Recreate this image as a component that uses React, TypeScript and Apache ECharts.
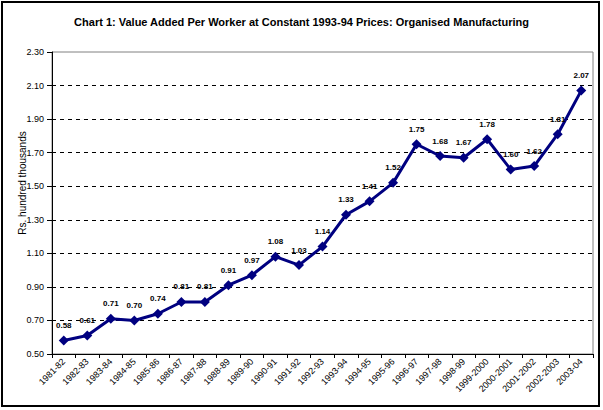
import React, { useEffect, useRef } from "react";
import * as echarts from "echarts";

const categories = [
  "1981-82", "1982-83", "1983-84", "1984-85", "1985-86", "1986-87", "1987-88",
  "1988-89", "1989-90", "1990-91", "1991-92", "1992-93", "1993-94", "1994-95",
  "1995-96", "1996-97", "1997-98", "1998-99", "1999-2000", "2000-2001",
  "2001-2002", "2002-2003", "2003-04",
];
const valuePerWorker = [
  0.58, 0.61, 0.71, 0.7, 0.74, 0.81, 0.81, 0.91, 0.97, 1.08, 1.03, 1.14, 1.33,
  1.41, 1.52, 1.75, 1.68, 1.67, 1.78, 1.6, 1.62, 1.81, 2.07,
];
const yMin = 0.5;
const yMax = 2.3;
const yStep = 0.2;

const titleText =
  "Chart 1: Value Added Per Worker at Constant 1993-94 Prices: Organised Manufacturing";
const yAxisTitle = "Rs. hundred thousands";

const FONT = "Arial, 'Liberation Sans', sans-serif";

export default function App() {
  const ref = useRef<HTMLDivElement>(null);
  useEffect(() => {
    document.body.style.margin = "0";
    const chart = echarts.init(ref.current!, null, { renderer: "svg" });
    chart.setOption({
      animation: false,
      backgroundColor: "#ffffff",
      textStyle: { fontFamily: FONT },
      title: {
        text: titleText,
        left: "center",
        top: 11,
        textStyle: { fontSize: 11, fontWeight: "bold", color: "#000", fontFamily: FONT },
      },
      graphic: [
        {
          type: "rect",
          shape: { x: 2, y: 2, width: 597, height: 404 },
          style: { fill: "none", stroke: "#000", lineWidth: 2 },
          silent: true,
          z: 100,
        },
        {
          type: "text",
          x: 22,
          y: 183,
          rotation: Math.PI / 2,
          style: {
            text: yAxisTitle,
            fontSize: 10,
            fontFamily: FONT,
            fill: "#000",
            align: "center",
            verticalAlign: "middle",
          },
        },
      ],
      grid: {
        left: 52,
        right: 10,
        top: 52,
        bottom: 56,
        show: true,
        borderColor: "#808080",
        borderWidth: 1,
        backgroundColor: "#ffffff",
      },
      xAxis: {
        type: "category",
        data: categories,
        boundaryGap: true,
        axisLine: { lineStyle: { color: "#000", width: 1 } },
        axisTick: { show: true, alignWithLabel: false, length: 4, lineStyle: { color: "#000" } },
        axisLabel: {
          interval: 0,
          rotate: 45,
          fontSize: 9,
          color: "#000",
          fontFamily: FONT,
          margin: 6,
        },
        splitLine: { show: false },
      },
      yAxis: {
        type: "value",
        min: yMin,
        max: yMax,
        interval: yStep,
        axisLine: { show: true, lineStyle: { color: "#000", width: 1 } },
        axisTick: { show: true, length: 5, lineStyle: { color: "#000" } },
        axisLabel: {
          fontSize: 9,
          color: "#000",
          fontFamily: FONT,
          margin: 8,
          formatter: (v: number) => v.toFixed(2),
        },
        splitLine: {
          show: true,
          showMinLine: false,
          showMaxLine: false,
          lineStyle: { color: "#000", type: [4, 4], width: 1 },
        },
      },
      series: [
        {
          type: "line",
          data: valuePerWorker,
          color: "#000080",
          lineStyle: { color: "#000080", width: 3 },
          itemStyle: { color: "#000080" },
          symbol: "diamond",
          symbolSize: 10,
          showAllSymbol: true,
          label: {
            show: true,
            position: "top",
            distance: 6,
            fontSize: 8,
            fontWeight: "bold",
            color: "#000",
            fontFamily: FONT,
            formatter: (p: any) => Number(p.value).toFixed(2),
          },
        },
      ],
    });
    return () => chart.dispose();
  }, []);
  return (
    <div
      ref={ref}
      style={{ position: "absolute", left: 0, top: 0, width: 603, height: 410 }}
    />
  );
}
